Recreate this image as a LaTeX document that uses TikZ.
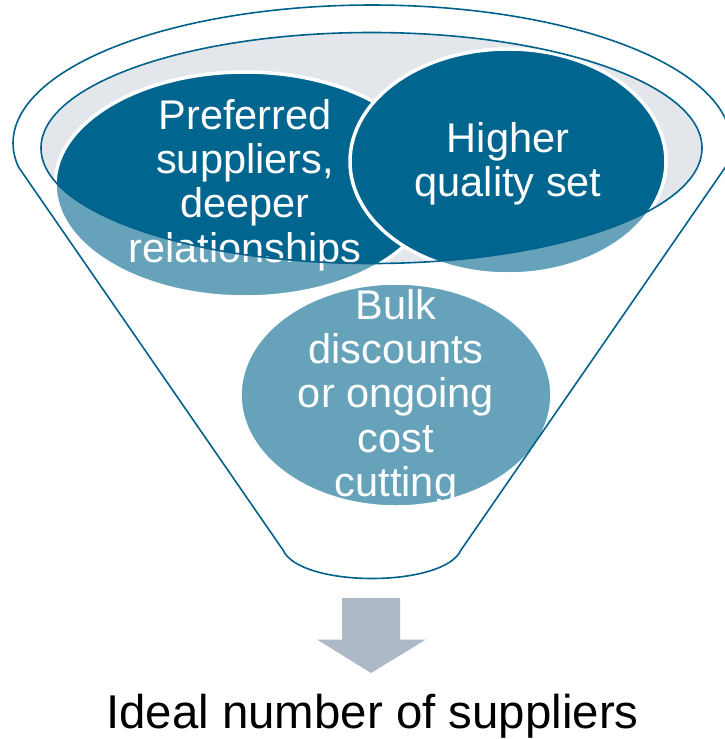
\documentclass[tikz,border=0pt]{standalone}
\usepackage{fontspec}
\setmainfont{Liberation Sans}
\usetikzlibrary{shapes.geometric}
\definecolor{dark}{RGB}{0,102,143}
\definecolor{mouth}{RGB}{227,231,236}
\definecolor{arrowgray}{RGB}{173,185,199}
\definecolor{rim}{RGB}{0,98,138}
\begin{document}
\begin{tikzpicture}[x=1pt,y=-1pt,
  bubble/.style={ellipse, fill=dark, draw=white, line width=3.5pt, inner sep=0pt},
  bubbletext/.style={text=white, align=center, font=\fontsize{41.5}{44.3}\selectfont, inner sep=0pt},
  rimline/.style={draw=rim, line width=1.6pt}]
\useasboundingbox (0,0) rectangle (725,739);
% mouth of the funnel
\fill[mouth] (371.5,148) ellipse [x radius=330.5pt, y radius=115.5pt];
% bubbles
\node[bubble, minimum width=380pt, minimum height=225pt] (pref) at (245,184.5) {};
\node[bubble, minimum width=316pt, minimum height=225pt] (high) at (508,161.5) {};
\node[bubble, minimum width=312pt, minimum height=224pt] (bulk) at (396,395) {};
% translucent funnel body
\fill[white, fill opacity=0.4, even odd rule]
  plot[domain=170:370, samples=120] ({372+359*cos(\x)},{143+138*sin(\x)})
  -- (461,550) .. controls (444,588) and (300,588) .. (283,550) -- cycle
  (371.5,148) ellipse [x radius=330.5pt, y radius=115.5pt];
% texts
\node[bubbletext] (preft) at (245,185) {Preferred\\suppliers,\\deeper\\relationships};
\node[bubbletext] (hight) at (508,164) {Higher\\quality set};
\node[bubbletext] (bulkt) at (396,397) {Bulk\\discounts\\or ongoing\\cost\\cutting};
% outlines
\draw[rimline]
  plot[domain=170:370, samples=120] ({372+359*cos(\x)},{143+138*sin(\x)})
  -- (461,550) .. controls (444,588) and (300,588) .. (283,550) -- cycle;
\draw[rimline] (371.5,148) ellipse [x radius=330.5pt, y radius=115.5pt];
% arrow
\fill[arrowgray] (342,598) -- (400,598) -- (400,639.5) -- (426,639.5) -- (371,673)
  -- (317,639.5) -- (342,639.5) -- cycle;
\node[font=\fontsize{47.4}{50}\selectfont, anchor=base, inner sep=0pt] (ideal) at (372.5,728.5) {Ideal number of suppliers};
\end{tikzpicture}
\end{document}
